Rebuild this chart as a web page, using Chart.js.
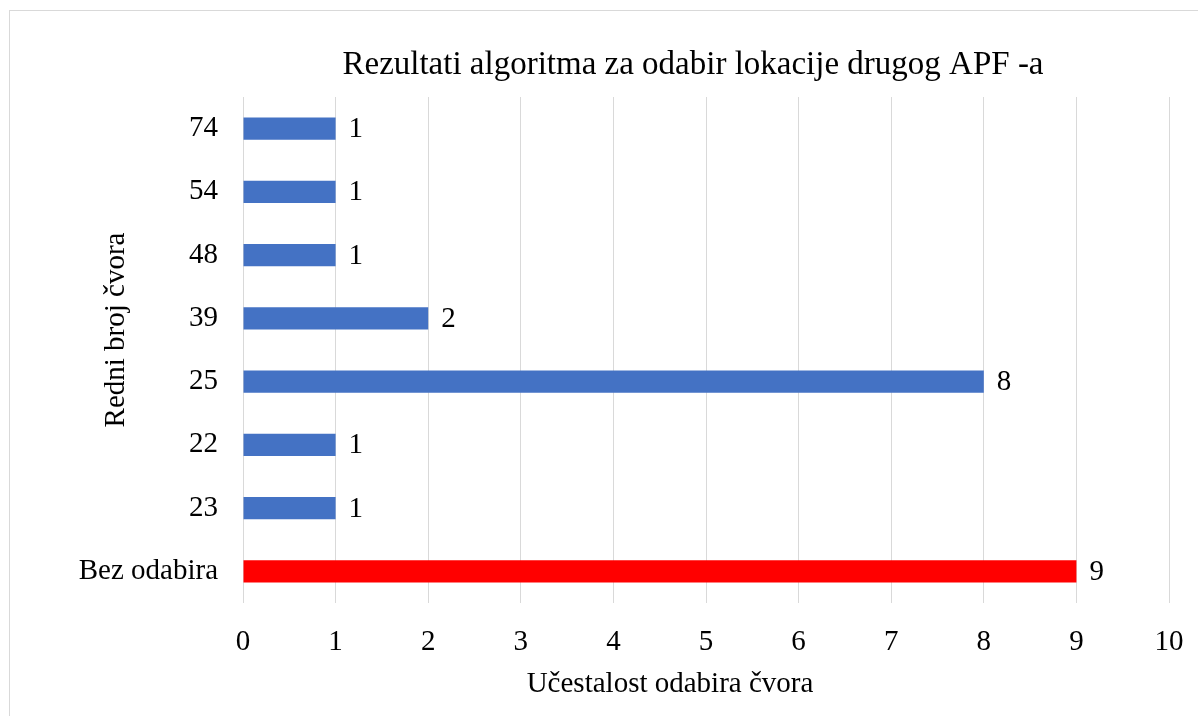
<!DOCTYPE html>
<html>
<head>
<meta charset="utf-8">
<script src="https://cdn.jsdelivr.net/npm/chart.js@4"></script>
<style>
  html, body { margin: 0; padding: 0; background: #fff; }
  #wrap { position: relative; width: 1198px; height: 716px; overflow: hidden; }
  #frame { position: absolute; left: 9px; top: 10px; width: 1200px; height: 720px; border: 1px solid #d9d9d9; box-sizing: border-box; }
  canvas { position: absolute; left: 0; top: 0; }
</style>
</head>
<body>
<div id="wrap">
  <div id="frame"></div>
  <canvas id="chart" width="1198" height="716"></canvas>
</div>
<script>
// podaci (odozgo prema dolje)
const categories = ["74", "54", "48", "39", "25", "22", "23", "Bez odabira"];
const values = [1, 1, 1, 2, 8, 1, 1, 9];
const barColors = ["#4472C4", "#4472C4", "#4472C4", "#4472C4", "#4472C4", "#4472C4", "#4472C4", "#FF0000"];
const xTicks = [0, 1, 2, 3, 4, 5, 6, 7, 8, 9, 10];

const chartTitle = "Rezultati algoritma za odabir lokacije drugog APF -a";
const xTitle = "Učestalost odabira čvora";
const yTitle = "Redni broj čvora";

const SERIF = "'Liberation Serif', 'Times New Roman', serif";

// natpisi vrijednosti + naslovi
const labelsPlugin = {
    id: 'labels',
    afterDatasetsDraw(chart) {
        const ctx = chart.ctx;
        const meta = chart.getDatasetMeta(0);
        ctx.save();
        ctx.fillStyle = '#000';
        ctx.font = '29px ' + SERIF;
        ctx.textAlign = 'left';
        ctx.textBaseline = 'middle';
        meta.data.forEach((bar, i) => {
            ctx.fillText(String(values[i]), bar.x + 13, bar.y + 1);
        });
        ctx.restore();
    },
    afterDraw(chart) {
        const ctx = chart.ctx;
        ctx.save();
        ctx.fillStyle = '#000';
        ctx.textAlign = 'center';
        ctx.textBaseline = 'alphabetic';
        ctx.font = '33px ' + SERIF;
        ctx.fillText(chartTitle, 693, 74);
        ctx.font = '29px ' + SERIF;
        ctx.fillText(xTitle, 670, 692);
        ctx.translate(124, 330);
        ctx.rotate(-Math.PI / 2);
        ctx.fillText(yTitle, 0, 0);
        ctx.restore();
    }
};

new Chart(document.getElementById('chart').getContext('2d'), {
    type: 'bar',
    data: {
        labels: categories,
        datasets: [{
            data: values,
            backgroundColor: barColors,
            borderWidth: 0,
            categoryPercentage: 1,
            barPercentage: 0.35
        }]
    },
    options: {
        indexAxis: 'y',
        responsive: false,
        animation: false,
        layout: { padding: { top: 97, right: 29, bottom: 0, left: 0 } },
        plugins: {
            legend: { display: false },
            tooltip: { enabled: false },
            title: { display: false }
        },
        scales: {
            x: {
                min: 0,
                max: 10,
                afterBuildTicks: (s) => { s.ticks = xTicks.map(v => ({ value: v })); },
                afterFit: (s) => { s.height = 113; s.paddingLeft = 0; s.paddingRight = 0; },
                grid: { color: '#d9d9d9', lineWidth: 1, drawTicks: false },
                border: { display: false },
                ticks: {
                    color: '#000',
                    font: { family: SERIF, size: 29 },
                    padding: 22,
                    maxRotation: 0
                }
            },
            y: {
                afterFit: (s) => { s.width = 243; },
                grid: { display: false, drawTicks: false },
                border: { display: false },
                ticks: {
                    color: '#000',
                    font: { family: SERIF, size: 29 },
                    padding: 25
                }
            }
        }
    },
    plugins: [labelsPlugin]
});
</script>
</body>
</html>
